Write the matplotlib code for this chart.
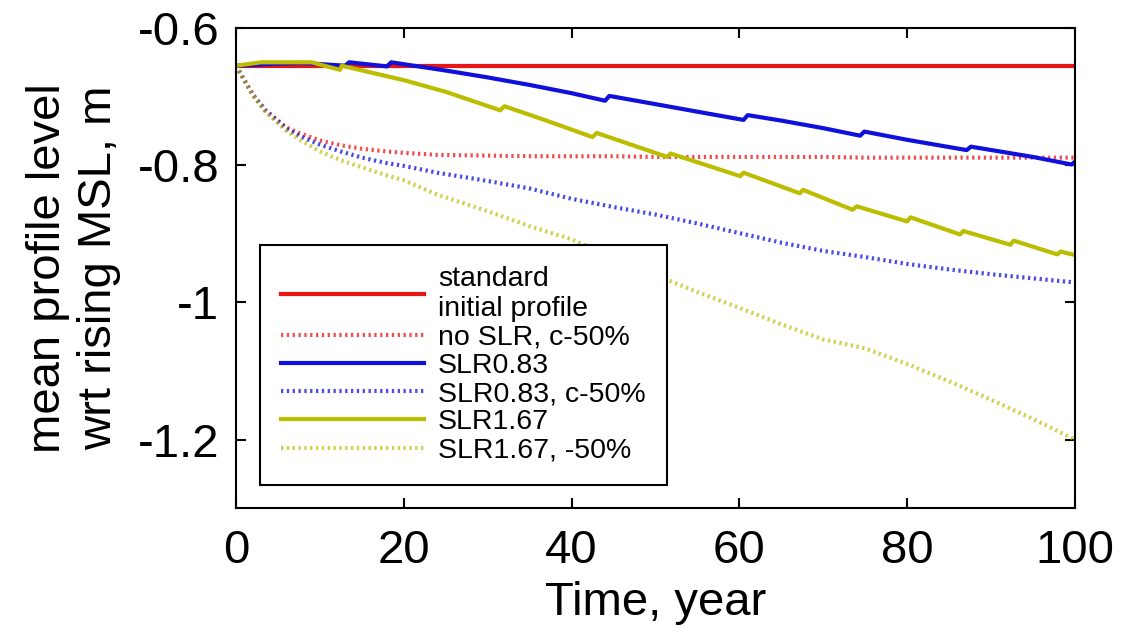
import matplotlib.pyplot as plt
from matplotlib.ticker import FuncFormatter

plt.rcParams['font.family'] = ['Liberation Sans', 'DejaVu Sans']
plt.rcParams['axes.unicode_minus'] = False

# ---------- data ----------
years_std = [0, 100]
std_profile = [-0.655, -0.655]

years_dot = [0, 1, 2, 3.5, 5, 6, 7.5, 10, 12.5, 15, 18, 20, 24, 30, 35, 40,
             45, 50, 55, 60, 65, 70, 75, 80, 85, 90, 95, 100]
noslr_c50 = [-0.655, -0.676, -0.697, -0.720, -0.735, -0.745, -0.753, -0.764,
             -0.771, -0.776, -0.780, -0.782, -0.785, -0.786, -0.787, -0.787,
             -0.787, -0.788, -0.788, -0.788, -0.788, -0.788, -0.789, -0.789,
             -0.789, -0.789, -0.789, -0.789]
slr083_c50 = [-0.655, -0.676, -0.697, -0.720, -0.736, -0.747, -0.757, -0.770,
              -0.780, -0.789, -0.797, -0.801, -0.811, -0.823, -0.834, -0.849,
              -0.861, -0.872, -0.885, -0.899, -0.913, -0.925, -0.934, -0.944,
              -0.952, -0.959, -0.965, -0.971]
slr167_c50 = [-0.655, -0.676, -0.698, -0.722, -0.739, -0.750, -0.762, -0.780,
              -0.793, -0.803, -0.815, -0.822, -0.843, -0.867, -0.889, -0.908,
              -0.935, -0.960, -0.985, -1.008, -1.032, -1.054, -1.067, -1.090,
              -1.115, -1.142, -1.170, -1.200]

years_slr083 = [0, 5, 8, 13, 13.5, 18, 18.5, 25, 30, 35, 40, 44, 44.5, 50, 55,
                60.5, 61, 65, 70, 74.4, 74.9, 80, 87.1, 87.6, 95, 99.6, 100]
slr083 = [-0.655, -0.652, -0.651, -0.655, -0.650, -0.656, -0.650, -0.662,
          -0.672, -0.683, -0.695, -0.706, -0.699, -0.711, -0.722, -0.734,
          -0.727, -0.735, -0.746, -0.757, -0.751, -0.763, -0.778, -0.773,
          -0.788, -0.799, -0.795]

years_slr167 = [0, 3, 9, 12.4, 12.6, 20, 25, 31.5, 32, 37, 42.5, 43, 51.4,
                51.8, 60.1, 60.5, 67.2, 67.6, 73.5, 74, 80, 80.4, 86.3, 86.7,
                92.3, 92.7, 97.9, 98.3, 100]
slr167 = [-0.655, -0.650, -0.650, -0.661, -0.655, -0.676, -0.693, -0.720,
          -0.714, -0.735, -0.759, -0.753, -0.788, -0.783, -0.816, -0.811,
          -0.841, -0.836, -0.865, -0.860, -0.882, -0.876, -0.901, -0.896,
          -0.916, -0.910, -0.930, -0.926, -0.931]

xticks = [0, 20, 40, 60, 80, 100]
yticks = [-1.2, -1.0, -0.8, -0.6]

RED = '#e81515'
BLUE = '#1010dc'
YEL = '#bcbc00'
DOT = (0, (0.55, 0.85))

fig = plt.figure(figsize=(11.21, 6.44), dpi=100)
ax = fig.add_axes([0.2105, 0.211, 0.7484, 0.7455])

ax.plot(years_std, std_profile, color=RED, lw=3, label='standard\ninitial profile')
ax.plot(years_dot, noslr_c50, color=RED, lw=3, ls=DOT, alpha=0.75,
        dash_capstyle='butt', label='no SLR, c-50%')
ax.plot(years_slr083, slr083, color=BLUE, lw=3, label='SLR0.83')
ax.plot(years_dot, slr083_c50, color=BLUE, lw=3, ls=DOT, alpha=0.75,
        dash_capstyle='butt', label='SLR0.83, c-50%')
ax.plot(years_slr167, slr167, color=YEL, lw=3, label='SLR1.67')
ax.plot(years_dot, slr167_c50, color=YEL, lw=3, ls=DOT, alpha=0.7,
        dash_capstyle='butt', label='SLR1.67, -50%')

ax.set_xlim(0, 100)
ax.set_ylim(-1.3, -0.6)
ax.set_xticks(xticks)
ax.set_yticks(yticks)
ax.yaxis.set_major_formatter(FuncFormatter(lambda v, p: '%g' % v))
ax.tick_params(direction='in', length=7, width=1.5, top=True, right=True,
               labelsize=34)
ax.tick_params(axis='x', pad=15)
ax.tick_params(axis='y', pad=12)
for s in ax.spines.values():
    s.set_linewidth(1.5)

ax.set_xlabel('Time, year', fontsize=34, labelpad=6)
ax.set_ylabel('mean profile level\nwrt rising MSL, m', fontsize=34,
              linespacing=1.2, labelpad=12)

leg = ax.legend(loc='lower left', bbox_to_anchor=(0.0286, 0.048),
                fontsize=20.5, handlelength=5.0, handletextpad=0.5,
                labelspacing=0.08, borderpad=0.75, borderaxespad=0,
                fancybox=False, edgecolor='black', framealpha=1)
leg.get_frame().set_linewidth(1.5)

fig.savefig('out.png', dpi=100)
